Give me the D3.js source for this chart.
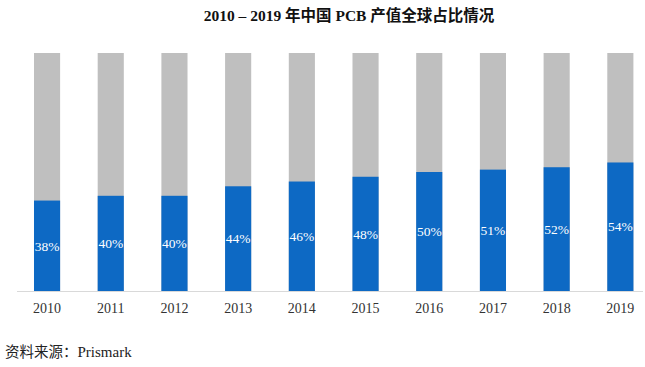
<!DOCTYPE html>
<html>
<head>
<meta charset="utf-8">
<script src="https://cdn.jsdelivr.net/npm/d3@7"></script>
<style>
  body { margin: 0; background: #fff; }
  svg { display: block; }
</style>
</head>
<body>
<div class="chart"></div>
<script>
// data
const years = ['2010', '2011', '2012', '2013', '2014', '2015', '2016', '2017', '2018', '2019'];
const chinaShare = [38, 40, 40, 44, 46, 48, 50, 51, 52, 54];
const titleText = '2010 – 2019 年中国 PCB 产值全球占比情况';
const sourceLabel = '资料来源：';
const sourceName = 'Prismark';

const width = 645;
const height = 367;
const serif = '"Liberation Serif", "DejaVu Serif", "Noto Sans CJK SC", serif';

const svg = d3.select('.chart').append('svg')
    .attr('width', width)
    .attr('height', height);

const x = d3.scaleBand()
    .domain(years)
    .range([15.2, 652.2])
    .paddingInner(0.59)
    .paddingOuter(0.295);

const y = d3.scaleLinear()
    .domain([0, 100])
    .range([291, 53]);

const data = years.map((yr, i) => ({year: yr, value: chinaShare[i]}));

// grey = whole market (100%)
svg.selectAll('.total')
    .data(data)
    .enter()
    .append('rect')
    .attr('class', 'total')
    .attr('x', d => x(d.year))
    .attr('width', x.bandwidth())
    .attr('y', y(100))
    .attr('height', y(0) - y(100))
    .style('fill', '#bfbfbf');

// blue = China share
svg.selectAll('.share')
    .data(data)
    .enter()
    .append('rect')
    .attr('class', 'share')
    .attr('x', d => x(d.year))
    .attr('width', x.bandwidth())
    .attr('y', d => y(d.value))
    .attr('height', d => y(0) - y(d.value))
    .style('fill', '#0d69c4');

svg.selectAll('.pct')
    .data(data)
    .enter()
    .append('text')
    .attr('class', 'pct')
    .attr('x', d => x(d.year) + x.bandwidth() / 2)
    .attr('y', d => (y(d.value) + y(0)) / 2)
    .attr('dy', '0.35em')
    .text(d => `${d.value}%`)
    .style('font-family', serif)
    .style('font-size', '13.5px')
    .style('fill', '#fff')
    .style('text-anchor', 'middle');

// x axis
const axis = svg.append('g')
    .attr('transform', `translate(0,${y(0)})`)
    .call(d3.axisBottom(x).tickSize(0).tickPadding(12));
axis.select('.domain').remove();
axis.selectAll('text')
    .style('font-family', serif)
    .style('font-size', '14px')
    .style('fill', '#333');

svg.append('line')
    .attr('x1', 17)
    .attr('x2', 643)
    .attr('y1', y(0) + 0.5)
    .attr('y2', y(0) + 0.5)
    .style('stroke', '#d9d9d9')
    .style('stroke-width', 1);

svg.append('text')
    .attr('x', 349)
    .attr('y', 21)
    .text(titleText)
    .style('font-family', serif)
    .style('font-size', '15.5px')
    .style('font-weight', 'bold')
    .style('fill', '#111')
    .style('text-anchor', 'middle');

const source = svg.append('text')
    .attr('x', 5)
    .attr('y', 357)
    .style('font-size', '14.5px')
    .style('fill', '#222');
source.append('tspan')
    .text(sourceLabel)
    .style('font-family', '"Noto Sans CJK SC", sans-serif');
source.append('tspan')
    .text(sourceName)
    .style('font-family', serif)
    .style('font-size', '15px');
</script>
</body>
</html>
